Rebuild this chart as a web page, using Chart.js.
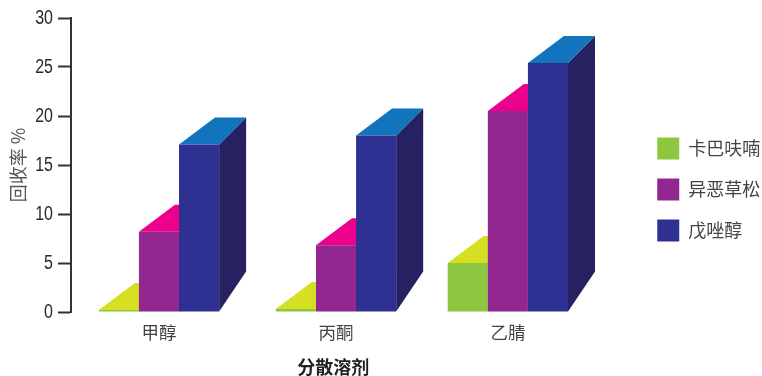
<!DOCTYPE html>
<html>
<head>
<meta charset="utf-8">
<title>回收率</title>
<script src="https://cdn.jsdelivr.net/npm/chart.js@4"></script>
<style>
  html, body { margin: 0; background: #fff; }
  canvas { display: block; }
</style>
</head>
<body>
<canvas id="recoveryChart" width="762" height="376"></canvas>
<script>
const solvents = ['甲醇', '丙酮', '乙腈'];
const carbofuran = [0.2, 0.3, 5.0];
const isoxaflutole = [8.2, 6.8, 20.5];
const tebuconazole = [17.1, 18.0, 25.4];
const yTicks = [0, 5, 10, 15, 20, 25, 30];

const CJK = '"Noto Sans CJK SC", "Noto Sans", sans-serif';
const DIGITS = '"Liberation Sans", sans-serif';

// fake 3d extrusion, in pixels
const rise = 27, runLeft = 36, runRight = 27, sideDrop = 40;
// groups are not quite on the even category step
const groupShift = [0.6, 2.9, 0];
// tick numbers are set condensed, no narrow face is installed
const digitSqueeze = 0.8;

const faces = [
  { front: '#8dc63f', top: '#d7df23', side: '#5f8a2a' },
  { front: '#92278f', top: '#ec008c', side: '#5c1a5a' },
  { front: '#2e3192', top: '#1174bc', side: '#262262' }
];

function poly(ctx, pts, color) {
  ctx.fillStyle = color;
  ctx.beginPath();
  pts.forEach((p, i) => i ? ctx.lineTo(p[0], p[1]) : ctx.moveTo(p[0], p[1]));
  ctx.closePath();
  ctx.fill();
}

// draws bars left to right with their top and side faces, so later bars cover earlier ones
const extrude = {
  id: 'extrude',
  beforeDatasetsDraw(chart) {
    const ctx = chart.ctx;
    solvents.forEach((_, g) => {
      chart.data.datasets.forEach((ds, d) => {
        const bar = chart.getDatasetMeta(d).data[g];
        const l = bar.x - bar.width / 2, r = bar.x + bar.width / 2;
        const y = bar.y, b = bar.base;
        poly(ctx, [[r, b], [r, y], [r + runRight, y - rise], [r + runRight, b - sideDrop]], faces[d].side);
        poly(ctx, [[l, y], [r, y], [r + runRight, y - rise], [l + runLeft, y - rise]], faces[d].top);
        bar.draw(ctx);
      });
    });
    return false;
  }
};

// legend sits further right than its layout slot
const legendSlot = {
  id: 'legendSlot',
  afterLayout(chart) {
    const lg = chart.legend;
    lg.left += 43; lg.right += 43;
    lg.top -= 7.5; lg.bottom -= 7.5;
  }
};

new Chart(document.getElementById('recoveryChart'), {
  type: 'bar',
  data: {
    labels: solvents,
    datasets: [
      { label: '卡巴呋喃', data: carbofuran, backgroundColor: faces[0].front },
      { label: '异恶草松', data: isoxaflutole, backgroundColor: faces[1].front },
      { label: '戊唑醇', data: tebuconazole, backgroundColor: faces[2].front }
    ]
  },
  options: {
    responsive: false,
    animation: false,
    layout: { padding: { top: 18, right: 34.75 } },
    datasets: { bar: { categoryPercentage: 0.7, barPercentage: 1 } },
    plugins: {
      tooltip: { enabled: false },
      legend: {
        position: 'right',
        labels: {
          boxWidth: 22,
          boxHeight: 22,
          padding: 19,
          color: '#444',
          font: { family: CJK, size: 18 }
        }
      }
    },
    scales: {
      x: {
        afterFit(scale) {
          scale.height = 64;
          if (!scale.shifted) {
            const pixel = scale.getPixelForValue;
            scale.getPixelForValue = v => pixel.call(scale, v) + groupShift[v];
            scale.shifted = true;
          }
        },
        grid: { display: false, drawTicks: false },
        border: { display: false },
        ticks: { color: '#444', padding: 10, font: { family: CJK, size: 17.5 } },
        title: {
          display: true,
          text: '分散溶剂',
          color: '#222',
          padding: { top: 0, bottom: -2 },
          font: { family: CJK, size: 18, weight: 'bold' }
        }
      },
      y: {
        min: 0,
        max: 30,
        afterBuildTicks(scale) { scale.ticks = yTicks.map(value => ({ value })); },
        afterFit(scale) {
          scale.width = 71;
          if (!scale.squeezed) {
            const drawLabels = scale.drawLabels;
            scale.drawLabels = function (area) {
              const ctx = this.ctx, edge = this.right - 18;
              ctx.save();
              ctx.translate(edge, 0);
              ctx.scale(digitSqueeze, 1);
              ctx.translate(-edge, 0);
              drawLabels.call(this, area);
              ctx.restore();
            };
            scale.squeezed = true;
          }
        },
        grid: { display: true, drawOnChartArea: false, drawTicks: true, tickLength: 13, tickColor: '#333', tickWidth: 2 },
        border: { display: true, color: '#333', width: 2 },
        ticks: { color: '#2a2a2a', padding: 5, font: { family: DIGITS, size: 20 } },
        title: {
          display: true,
          text: '回收率 %',
          color: '#555',
          padding: { top: 7, bottom: 0 },
          font: { family: CJK, size: 18 }
        }
      }
    }
  },
  plugins: [extrude, legendSlot]
});
</script>
</body>
</html>
